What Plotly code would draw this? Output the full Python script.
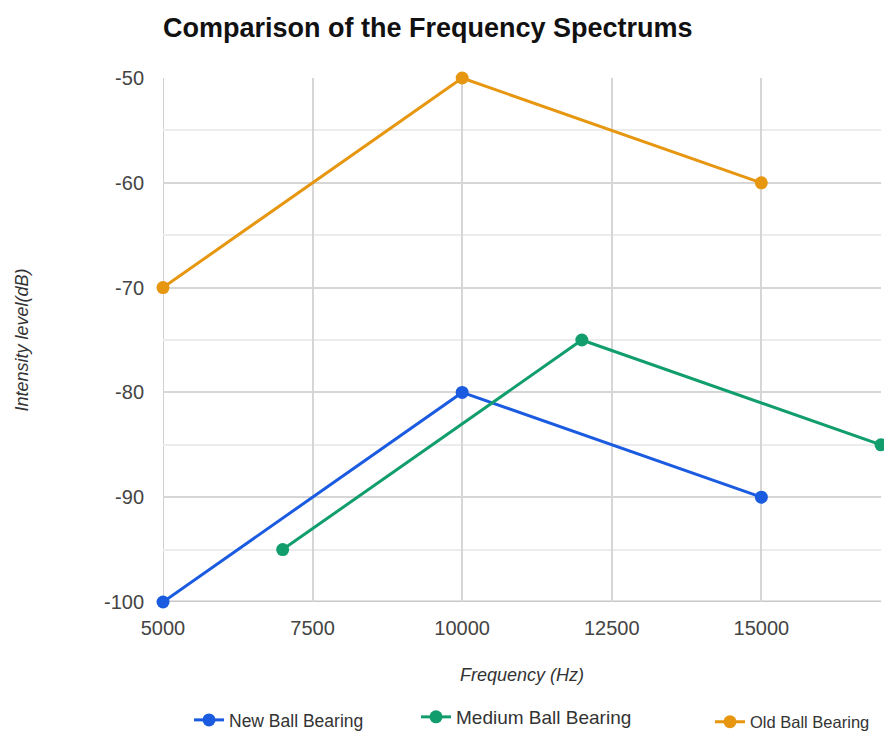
import plotly.graph_objects as go

# Spectrum peaks for each bearing condition
freq_new = [5000, 10000, 15000]
level_new = [-100, -80, -90]

freq_medium = [7000, 12000, 17000]
level_medium = [-95, -75, -85]

freq_old = [5000, 10000, 15000]
level_old = [-70, -50, -60]

x_ticks = [5000, 7500, 10000, 12500, 15000]
x_tick_labels = ["5000", "7500", "10000", "12500", "15000"]
y_ticks = [-100, -90, -80, -70, -60, -50]
y_tick_labels = ["-100", "-90", "-80", "-70", "-60", "-50"]

FONT = "Liberation Sans, Arial, sans-serif"
W, H = 884, 731

series = [
    ("New Ball Bearing", freq_new, level_new, "#1a5be0", "legend"),
    ("Medium Ball Bearing", freq_medium, level_medium, "#129e6c", "legend2"),
    ("Old Ball Bearing", freq_old, level_old, "#e6960f", "legend3"),
]

fig = go.Figure()
for name, xs, ys, color, leg in series:
    fig.add_trace(go.Scatter(
        x=xs, y=ys, name=name, mode="lines+markers",
        line=dict(color=color, width=3),
        marker=dict(color=color, size=13),
        cliponaxis=False, legend=leg, showlegend=True,
    ))


def legend_at(px, py, size):
    # place a one-item legend at a pixel position of the page
    return dict(
        orientation="h", xref="container", yref="container",
        x=px / W, y=1 - py / H, xanchor="left", yanchor="middle",
        font=dict(family=FONT, size=size, color="#333333"),
        bgcolor="rgba(0,0,0,0)", itemwidth=30,
    )


fig.update_layout(
    width=W, height=H,
    showlegend=True,
    margin=dict(l=163, r=3, t=78, b=129),
    paper_bgcolor="white", plot_bgcolor="white",
    font=dict(family=FONT, color="#444444"),
    title=dict(
        text="<b>Comparison of the Frequency Spectrums</b>",
        x=163 / W, xanchor="left", y=1 - 28 / H, yanchor="middle",
        font=dict(size=27, color="#111111"),
    ),
    xaxis=dict(
        range=[5000, 17000], tickvals=x_ticks, ticktext=x_tick_labels,
        showgrid=True, gridcolor="#d6d6d6", gridwidth=2,
        zeroline=False, showline=False, automargin=False,
        ticks="", ticklabelstandoff=12,
        tickfont=dict(family=FONT, size=20, color="#444444"),
        title=dict(text="<i>Frequency (Hz)</i>",
                   font=dict(family=FONT, size=18, color="#333333"), standoff=30),
    ),
    yaxis=dict(
        range=[-100, -50], tickvals=y_ticks, ticktext=y_tick_labels,
        showgrid=True, gridcolor="#d6d6d6", gridwidth=2,
        minor=dict(dtick=5, showgrid=True, gridcolor="#ececec", gridwidth=2),
        zeroline=False, showline=False, automargin=False,
        ticks="", ticklabelstandoff=18,
        tickfont=dict(family=FONT, size=20, color="#444444"),
        title=dict(text="<i>Intensity level(dB)</i>",
                   font=dict(family=FONT, size=18, color="#333333"), standoff=70),
    ),
    legend=legend_at(189, 720, 17.5),
    legend2=legend_at(416, 717, 19),
    legend3=legend_at(710, 722, 16.5),
)

# Baseline and left edge of the plotting area
fig.add_shape(type="line", xref="paper", yref="y", x0=0, x1=1, y0=-100, y1=-100,
              line=dict(color="#c8c8c8", width=3), layer="below")
fig.add_shape(type="line", xref="x", yref="paper", x0=5000, x1=5000, y0=0, y1=1,
              line=dict(color="#d0d0d0", width=2), layer="below")

fig.write_html("out.html")
